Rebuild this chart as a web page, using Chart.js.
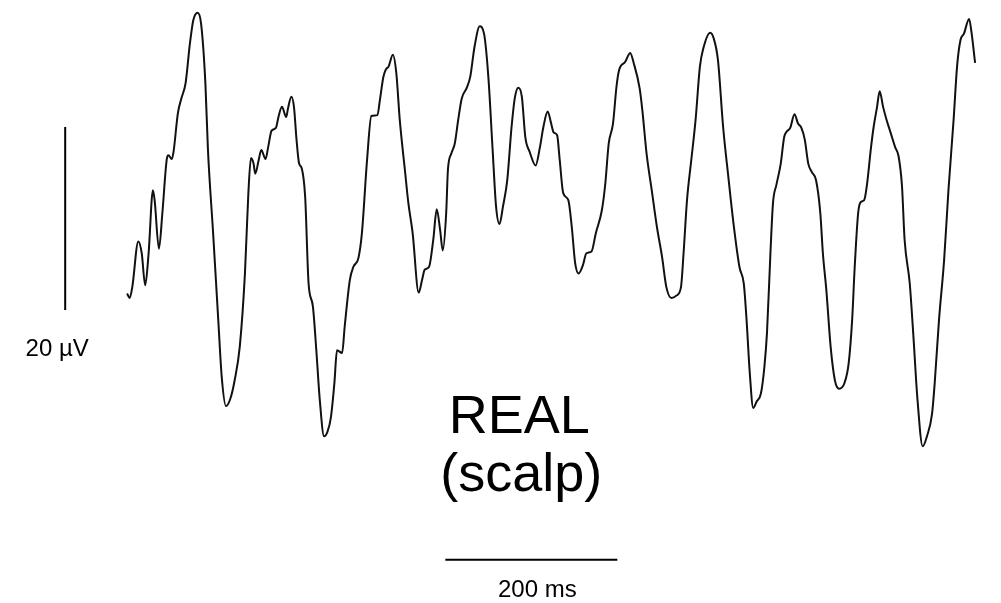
<!DOCTYPE html>
<html>
<head>
<meta charset="utf-8">
<title>REAL (scalp)</title>
<script src="https://cdn.jsdelivr.net/npm/chart.js@4/dist/chart.umd.min.js"></script>
<style>
  html, body { margin: 0; padding: 0; background: #fff; }
  #wrap { width: 1001px; height: 603px; }
</style>
</head>
<body>
<div id="wrap"><canvas id="eeg" width="1001" height="603"></canvas></div>
<script>
// EEG trace, time in ms, amplitude in µV
const timeMs = [
  -1, 2, 5, 12, 16, 20, 24, 29, 31, 36, 40, 45, 47, 51, 53, 58, 62, 67, 72, 76,
  81, 85, 90, 93, 99, 105, 109, 114, 119, 124, 130, 136, 140, 143, 146, 148, 152, 155, 160, 163,
  167, 172, 175, 179, 184, 186, 190, 193, 196, 199, 202, 206, 210, 215, 219, 223, 228, 232, 236, 240,
  243, 249, 252, 258, 262, 268, 272, 278, 283, 290, 293, 297, 300, 303, 308, 312, 316, 322, 326, 331,
  338, 342, 345, 350, 355, 359, 363, 366, 370, 372, 376, 380, 384, 388, 394, 398, 403, 409, 414, 419,
  424, 428, 432, 436, 441, 446, 450, 454, 458, 462, 467, 474, 479, 483, 488, 492, 495, 499, 502, 506,
  512, 516, 520, 524, 529, 533, 539, 544, 551, 555, 559, 564, 568, 571, 578, 584, 588, 595, 598, 603,
  609, 615, 621, 626, 632, 638, 643, 646, 650, 655, 660, 665, 669, 677, 681, 686, 692, 698, 704, 711,
  716, 719, 723, 727, 731, 736, 740, 743, 747, 750, 754, 759, 763, 766, 770, 775, 779, 783, 787, 791,
  795, 800, 805, 808, 812, 817, 822, 827, 833, 838, 842, 845, 849, 852, 856, 859, 864, 867, 871, 874,
  878, 882, 887, 892, 896, 900, 903, 909, 913, 918, 924, 929, 935, 938, 943, 949, 954, 960, 964, 968,
  972, 978, 981, 985
];
const eegUv = [
  1.8, 1.3, 2.5, 7.5, 6.2, 2.7, 6.2, 13.1, 12.0, 6.7, 10.6, 16.4, 16.9, 16.5, 17.3, 21.5, 23.1, 24.8, 29.1, 31.7,
  32.5, 31.3, 24.8, 17.5, 8.4, -1.1, -7.3, -10.5, -9.7, -7.7, -4.0, 4.0, 12.8, 16.6, 16.0, 14.9, 16.4, 17.5, 16.5, 17.8,
  19.6, 19.9, 21.1, 22.2, 21.1, 22.0, 23.3, 22.2, 18.6, 16.0, 15.5, 12.4, 2.9, 0.4, -4.4, -9.8, -13.8, -13.3, -11.7, -8.0,
  -4.4, -4.7, -1.8, 3.3, 4.7, 5.7, 8.4, 16.4, 21.2, 21.3, 23.0, 25.5, 26.3, 26.6, 27.9, 25.9, 20.8, 15.3, 11.7, 8.4,
  1.9, 3.3, 4.4, 4.7, 7.7, 11.0, 8.7, 6.5, 10.6, 15.3, 17.1, 18.2, 20.8, 23.1, 24.3, 25.5, 28.8, 31.0, 30.2, 25.5,
  17.5, 11.3, 9.4, 11.3, 14.2, 20.0, 23.3, 24.3, 23.3, 18.9, 17.3, 15.8, 17.8, 20.0, 21.7, 20.4, 19.4, 19.1, 16.4, 12.8,
  12.0, 9.1, 5.1, 4.0, 4.9, 6.2, 6.4, 8.4, 10.9, 13.8, 18.2, 20.4, 24.4, 26.2, 27.1, 28.1, 27.0, 24.2, 21.9, 17.1,
  13.1, 9.1, 5.8, 2.5, 1.3, 1.6, 2.5, 6.2, 12.0, 16.4, 20.8, 26.6, 28.6, 30.3, 29.7, 27.3, 20.0, 14.6, 9.5, 4.7,
  2.9, -0.7, -6.9, -10.7, -10.0, -9.1, -6.2, -2.5, 6.2, 11.7, 13.7, 16.0, 18.9, 19.5, 19.9, 21.4, 20.4, 19.9, 18.6, 16.0,
  15.1, 14.2, 10.6, 6.2, 2.2, -4.0, -7.7, -8.6, -8.0, -5.8, -1.1, 4.7, 10.6, 11.8, 12.0, 13.5, 17.8, 20.0, 22.2, 23.9,
  22.2, 20.8, 19.3, 17.8, 16.8, 13.5, 7.7, 2.9, -2.5, -9.8, -14.9, -13.8, -11.3, -8.0, -1.1, 5.5, 13.1, 20.8, 26.6, 29.5,
  30.2, 31.8, 30.2, 27.0
];

// calibration bars
const voltBarMs = [-73, -73];
const voltBarUv = [0, 20];
const timeBarMs = [369, 569];
const timeBarUv = [-27.3, -27.3];

const voltLabel = '20 \u00b5V';
const timeLabel = '200 ms';
const titleLines = ['REAL', '(scalp)'];

const toPoints = (xs, ys) => xs.map((x, i) => ({ x: x, y: ys[i] }));

// teksti-plugin: kalibrointien ja otsikon tekstit
const labelPlugin = {
  id: 'labels',
  afterDatasetsDraw(chart) {
    const { ctx, scales: { x, y } } = chart;
    ctx.save();
    ctx.fillStyle = '#000';
    ctx.textAlign = 'center';
    ctx.textBaseline = 'alphabetic';

    ctx.font = '24px "Liberation Sans", Arial, sans-serif';
    ctx.fillText(voltLabel, x.getPixelForValue(voltBarMs[0]) - 8, y.getPixelForValue(voltBarUv[0]) + 46);
    ctx.fillText(timeLabel, (x.getPixelForValue(timeBarMs[0]) + x.getPixelForValue(timeBarMs[1])) / 2 + 6,
      y.getPixelForValue(timeBarUv[0]) + 37);

    ctx.font = '54px "Liberation Sans", Arial, sans-serif';
    const cx = x.getPixelForValue(455);
    ctx.fillText(titleLines[0], cx, 433);
    ctx.fillText(titleLines[1], cx + 2, 491);
    ctx.restore();
  }
};

new Chart(document.getElementById('eeg'), {
  type: 'scatter',
  data: {
    datasets: [
      {
        data: toPoints(timeMs, eegUv),
        showLine: true,
        borderColor: '#111',
        borderWidth: 2,
        pointRadius: 0,
        cubicInterpolationMode: 'monotone',
        clip: false
      },
      {
        data: toPoints(voltBarMs, voltBarUv),
        showLine: true,
        borderColor: '#000',
        borderWidth: 2,
        pointRadius: 0
      },
      {
        data: toPoints(timeBarMs, timeBarUv),
        showLine: true,
        borderColor: '#000',
        borderWidth: 2,
        pointRadius: 0
      }
    ]
  },
  options: {
    responsive: false,
    animation: false,
    layout: { padding: 0 },
    plugins: { legend: { display: false }, tooltip: { enabled: false } },
    scales: {
      x: { type: 'linear', display: false, min: -148.8, max: 1015.1 },
      y: { type: 'linear', display: false, min: -32.02, max: 33.88 }
    }
  },
  plugins: [labelPlugin]
});
</script>
</body>
</html>
